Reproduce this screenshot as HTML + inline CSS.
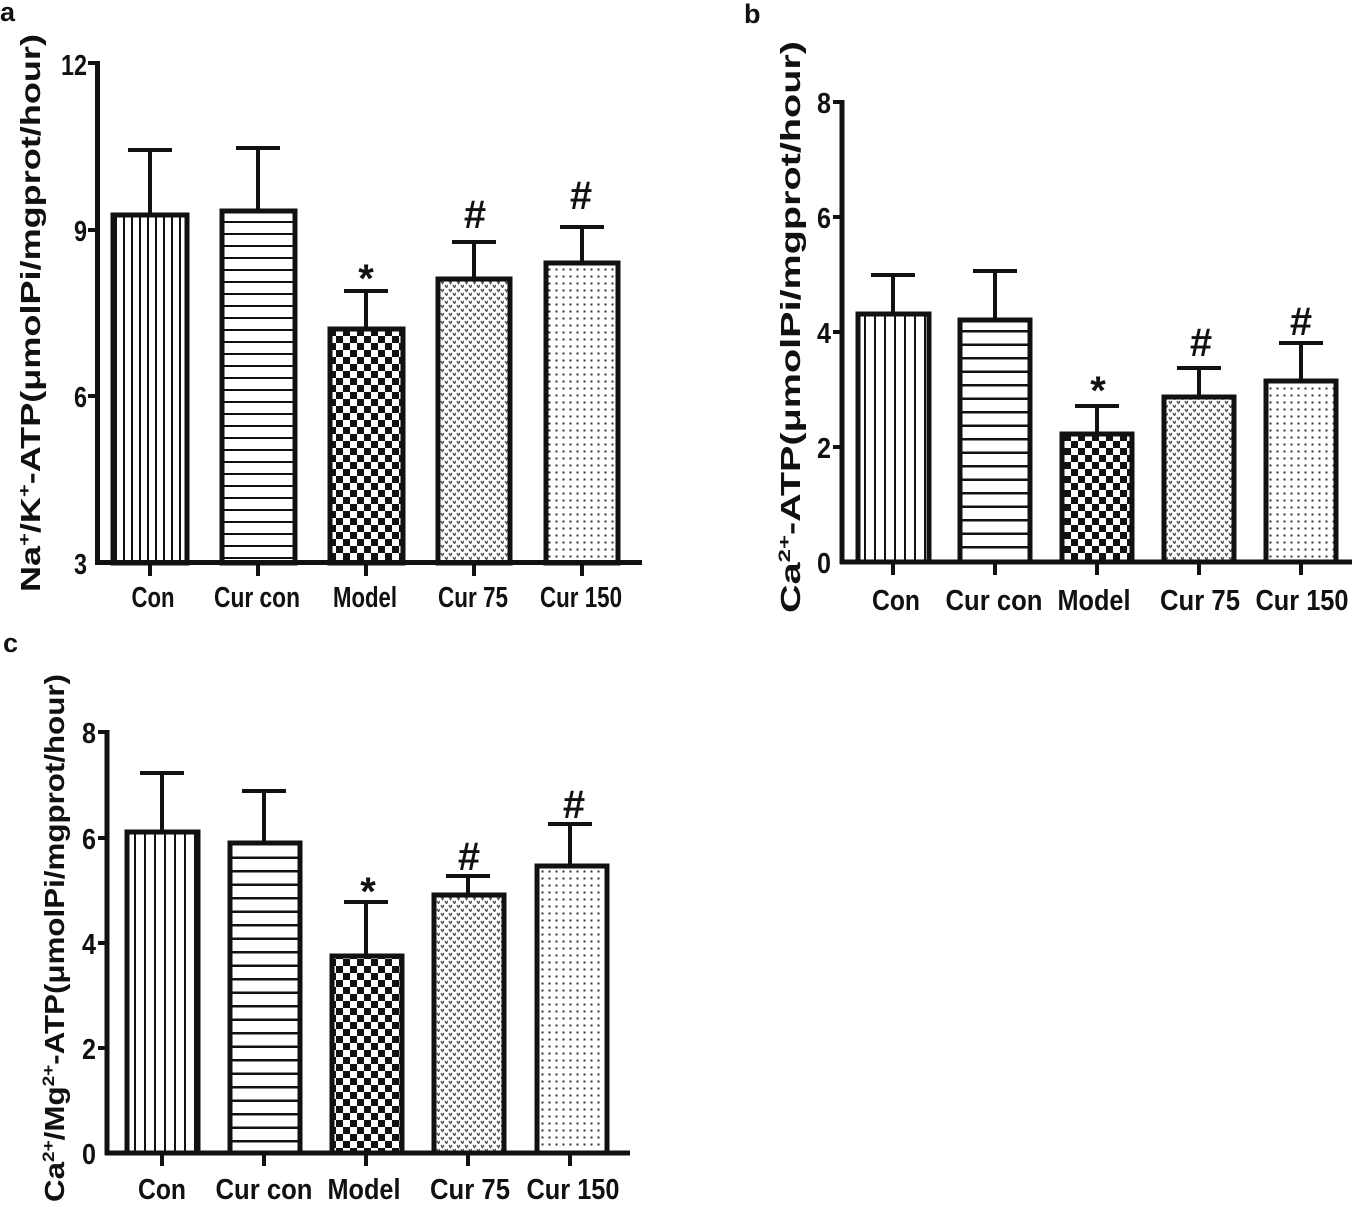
<!DOCTYPE html>
<html><head><meta charset="utf-8"><style>
html,body{margin:0;padding:0;background:#fff;}
svg{display:block;}
.t{font-family:"Liberation Sans Narrow","Liberation Sans",sans-serif;font-weight:bold;font-size:29px;fill:#111;}
.yl{font-family:"Liberation Sans",sans-serif;font-weight:bold;font-size:28px;fill:#111;}
.pl{font-family:"Liberation Sans",sans-serif;font-weight:bold;font-size:27px;fill:#111;}
.s{font-family:"Liberation Sans",sans-serif;font-weight:bold;font-size:40px;fill:#111;}
</style></head><body>
<svg width="1365" height="1207" viewBox="0 0 1365 1207" xmlns="http://www.w3.org/2000/svg">
<defs>
<pattern id="vl" width="8" height="10" patternUnits="userSpaceOnUse"><rect x="3" width="2" height="10" fill="#111"/></pattern>
<pattern id="vl2" width="10" height="10" patternUnits="userSpaceOnUse"><rect x="4" width="2" height="10" fill="#111"/></pattern>
<pattern id="hl" width="10" height="12" patternUnits="userSpaceOnUse"><rect y="5" width="10" height="2" fill="#111"/></pattern>
<pattern id="hl2" width="10" height="13.5" patternUnits="userSpaceOnUse"><rect y="6" width="10" height="2.5" fill="#111"/></pattern>
<pattern id="ck" width="14" height="14" patternUnits="userSpaceOnUse"><rect width="7" height="7" fill="#111"/><rect x="7" y="7" width="7" height="7" fill="#111"/></pattern>
<pattern id="vv" width="8" height="8" patternUnits="userSpaceOnUse"><path d="M1 1 L2.5 3.5 L4 1 M5 5 L6.5 7.5 L8 5" stroke="#555" stroke-width="1.4" fill="none"/></pattern>
<pattern id="dt" width="7" height="7" patternUnits="userSpaceOnUse"><rect x="2.5" y="2.5" width="2" height="2" fill="#333"/></pattern>
</defs>

<text class="pl" x="0" y="21">a</text>
<text class="pl" x="744" y="23">b</text>
<text class="pl" x="3" y="652">c</text>

<!-- ===== Panel a ===== -->
<g stroke="#111" fill="none">
<line x1="97.5" y1="61" x2="97.5" y2="565" stroke-width="5"/>
<line x1="95" y1="562.5" x2="642" y2="562.5" stroke-width="5"/>
<g stroke-width="4">
<line x1="88" y1="63" x2="97" y2="63"/><line x1="88" y1="230" x2="97" y2="230"/><line x1="88" y1="396" x2="97" y2="396"/>
<line x1="150" y1="563" x2="150" y2="576"/><line x1="258" y1="563" x2="258" y2="576"/><line x1="366" y1="563" x2="366" y2="576"/><line x1="474" y1="563" x2="474" y2="576"/><line x1="582" y1="563" x2="582" y2="576"/>
</g>
<g stroke-width="4">
<path d="M150 213 V150 M128 150 H172"/>
<path d="M258 210 V148 M236 148 H280"/>
<path d="M366 328 V291 M344 291 H388"/>
<path d="M474 278 V242 M452 242 H496"/>
<path d="M582 263 V227 M560 227 H604"/>
</g>
<g stroke-width="5">
<rect x="113" y="215" width="74" height="348" fill="url(#vl)"/>
<rect x="222" y="211" width="73" height="352" fill="url(#hl)"/>
<rect x="330" y="329" width="73" height="234" fill="url(#ck)"/>
<rect x="438" y="279" width="72" height="284" fill="url(#vv)"/>
<rect x="546" y="263" width="72" height="300" fill="url(#dt)"/>
</g>
</g>
<g class="t" text-anchor="end">
<text x="87" y="75" textLength="26" lengthAdjust="spacingAndGlyphs">12</text><text x="87" y="241" textLength="13" lengthAdjust="spacingAndGlyphs">9</text><text x="87" y="407" textLength="13" lengthAdjust="spacingAndGlyphs">6</text><text x="87" y="574" textLength="13" lengthAdjust="spacingAndGlyphs">3</text>
</g>
<g class="t" text-anchor="middle" lengthAdjust="spacingAndGlyphs">
<text x="153" y="607" textLength="43" lengthAdjust="spacingAndGlyphs">Con</text><text x="257" y="607" textLength="86" lengthAdjust="spacingAndGlyphs">Cur con</text><text x="365" y="607" textLength="64" lengthAdjust="spacingAndGlyphs">Model</text><text x="473" y="607" textLength="70" lengthAdjust="spacingAndGlyphs">Cur 75</text><text x="581" y="607" textLength="82" lengthAdjust="spacingAndGlyphs">Cur 150</text>
</g>
<g class="s" text-anchor="middle">
<text x="366" y="292">*</text><text x="475" y="228">#</text><text x="581" y="209">#</text>
</g>
<text class="yl" transform="translate(40,592) rotate(-90)" textLength="558" lengthAdjust="spacingAndGlyphs">Na<tspan dy="-10" font-size="17">+</tspan><tspan dy="10">/K</tspan><tspan dy="-10" font-size="17">+</tspan><tspan dy="10">-ATP(μmolPi/mgprot/hour)</tspan></text>

<!-- ===== Panel b ===== -->
<g stroke="#111" fill="none">
<line x1="842" y1="100" x2="842" y2="564" stroke-width="5"/>
<line x1="840" y1="562" x2="1352" y2="562" stroke-width="5"/>
<g stroke-width="4">
<line x1="833" y1="102" x2="842" y2="102"/><line x1="833" y1="217" x2="842" y2="217"/><line x1="833" y1="332" x2="842" y2="332"/><line x1="833" y1="447" x2="842" y2="447"/>
<line x1="893" y1="562" x2="893" y2="575"/><line x1="995" y1="562" x2="995" y2="575"/><line x1="1097" y1="562" x2="1097" y2="575"/><line x1="1199" y1="562" x2="1199" y2="575"/><line x1="1301" y1="562" x2="1301" y2="575"/>
</g>
<g stroke-width="4">
<path d="M893 313 V275 M871 275 H915"/>
<path d="M995 319 V271 M973 271 H1017"/>
<path d="M1097 434 V406 M1075 406 H1119"/>
<path d="M1199 397 V368 M1177 368 H1221"/>
<path d="M1301 380 V343 M1279 343 H1323"/>
</g>
<g stroke-width="5">
<rect x="858" y="314" width="71" height="248" fill="url(#vl2)"/>
<rect x="960" y="320" width="70" height="242" fill="url(#hl2)"/>
<rect x="1062" y="434" width="70" height="128" fill="url(#ck)"/>
<rect x="1164" y="397" width="70" height="165" fill="url(#vv)"/>
<rect x="1266" y="381" width="70" height="181" fill="url(#dt)"/>
</g>
</g>
<g class="t" text-anchor="end">
<text x="831" y="113" textLength="14" lengthAdjust="spacingAndGlyphs">8</text><text x="831" y="228" textLength="14" lengthAdjust="spacingAndGlyphs">6</text><text x="831" y="343" textLength="14" lengthAdjust="spacingAndGlyphs">4</text><text x="831" y="458" textLength="14" lengthAdjust="spacingAndGlyphs">2</text><text x="831" y="573" textLength="14" lengthAdjust="spacingAndGlyphs">0</text>
</g>
<g class="t" text-anchor="middle">
<text x="896" y="610" textLength="48" lengthAdjust="spacingAndGlyphs">Con</text><text x="994" y="610" textLength="97" lengthAdjust="spacingAndGlyphs">Cur con</text><text x="1094" y="610" textLength="73" lengthAdjust="spacingAndGlyphs">Model</text><text x="1200" y="610" textLength="80" lengthAdjust="spacingAndGlyphs">Cur 75</text><text x="1302" y="610" textLength="93" lengthAdjust="spacingAndGlyphs">Cur 150</text>
</g>
<g class="s" text-anchor="middle">
<text x="1098" y="404">*</text><text x="1201" y="356">#</text><text x="1301" y="335">#</text>
</g>
<text class="yl" transform="translate(800,613) rotate(-90)" textLength="572" lengthAdjust="spacingAndGlyphs">Ca<tspan dy="-10" font-size="17">2+</tspan><tspan dy="10">-ATP(μmolPi/mgprot/hour)</tspan></text>

<!-- ===== Panel c ===== -->
<g stroke="#111" fill="none">
<line x1="107" y1="730" x2="107" y2="1155" stroke-width="5"/>
<line x1="105" y1="1153" x2="630" y2="1153" stroke-width="5"/>
<g stroke-width="4">
<line x1="98" y1="732" x2="107" y2="732"/><line x1="98" y1="838" x2="107" y2="838"/><line x1="98" y1="943" x2="107" y2="943"/><line x1="98" y1="1048" x2="107" y2="1048"/>
<line x1="162" y1="1153" x2="162" y2="1166"/><line x1="264" y1="1153" x2="264" y2="1166"/><line x1="366" y1="1153" x2="366" y2="1166"/><line x1="468" y1="1153" x2="468" y2="1166"/><line x1="570" y1="1153" x2="570" y2="1166"/>
</g>
<g stroke-width="4">
<path d="M162 832 V773 M140 773 H184"/>
<path d="M264 843 V791 M242 791 H286"/>
<path d="M366 956 V902 M344 902 H388"/>
<path d="M468 895 V876 M446 876 H490"/>
<path d="M570 866 V824 M548 824 H592"/>
</g>
<g stroke-width="5">
<rect x="127" y="832" width="71" height="321" fill="url(#vl2)"/>
<rect x="230" y="843" width="70" height="310" fill="url(#hl2)"/>
<rect x="332" y="956" width="70" height="197" fill="url(#ck)"/>
<rect x="434" y="895" width="70" height="258" fill="url(#vv)"/>
<rect x="537" y="866" width="70" height="287" fill="url(#dt)"/>
</g>
</g>
<g class="t" text-anchor="end">
<text x="96" y="743" textLength="14" lengthAdjust="spacingAndGlyphs">8</text><text x="96" y="849" textLength="14" lengthAdjust="spacingAndGlyphs">6</text><text x="96" y="954" textLength="14" lengthAdjust="spacingAndGlyphs">4</text><text x="96" y="1059" textLength="14" lengthAdjust="spacingAndGlyphs">2</text><text x="96" y="1164" textLength="14" lengthAdjust="spacingAndGlyphs">0</text>
</g>
<g class="t" text-anchor="middle">
<text x="162" y="1199" textLength="48" lengthAdjust="spacingAndGlyphs">Con</text><text x="264" y="1199" textLength="97" lengthAdjust="spacingAndGlyphs">Cur con</text><text x="364" y="1199" textLength="73" lengthAdjust="spacingAndGlyphs">Model</text><text x="470" y="1199" textLength="80" lengthAdjust="spacingAndGlyphs">Cur 75</text><text x="573" y="1199" textLength="93" lengthAdjust="spacingAndGlyphs">Cur 150</text>
</g>
<g class="s" text-anchor="middle">
<text x="368" y="905">*</text><text x="469" y="870">#</text><text x="574" y="818">#</text>
</g>
<text class="yl" transform="translate(64,1202) rotate(-90)" textLength="528" lengthAdjust="spacingAndGlyphs">Ca<tspan dy="-10" font-size="17">2+</tspan><tspan dy="10">/Mg</tspan><tspan dy="-10" font-size="17">2+</tspan><tspan dy="10">-ATP(μmolPi/mgprot/hour)</tspan></text>
</svg>
</body></html>
